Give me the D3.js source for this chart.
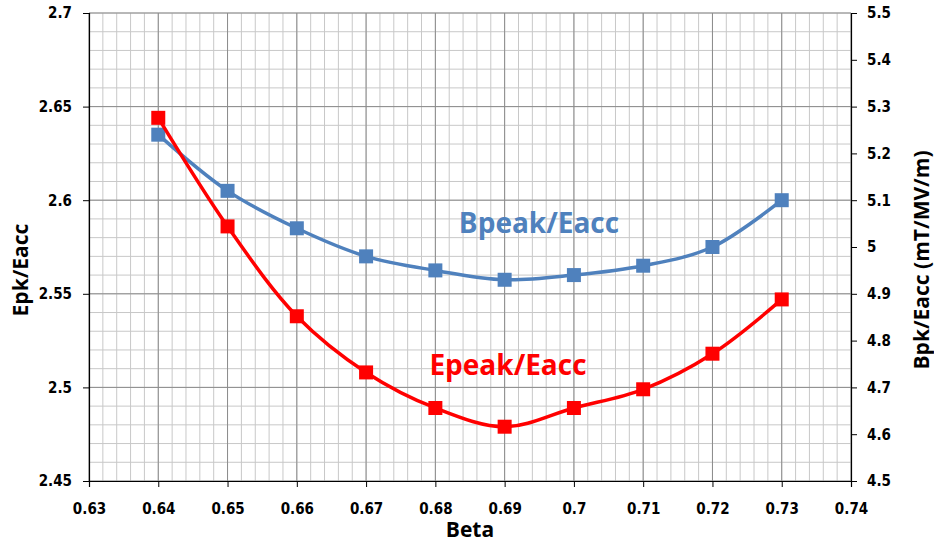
<!DOCTYPE html>
<html>
<head>
<meta charset="utf-8">
<script src="https://cdn.jsdelivr.net/npm/d3@7"></script>
<style>
  body { margin: 0; background: #fff; }
  .title { font-family: "Open Sans", sans-serif; font-weight: bold; fill: #000; }
</style>
</head>
<body>
<div id="chart"></div>
<script>
// data
const beta = [0.64, 0.65, 0.66, 0.67, 0.68, 0.69, 0.70, 0.71, 0.72, 0.73];
const epeak = [2.644, 2.586, 2.538, 2.508, 2.489, 2.479, 2.489, 2.499, 2.518, 2.547];
const bpeak = [5.24, 5.12, 5.04, 4.98, 4.95, 4.93, 4.94, 4.96, 5.00, 5.10];
const xTicks = [0.63, 0.64, 0.65, 0.66, 0.67, 0.68, 0.69, 0.7, 0.71, 0.72, 0.73, 0.74];
const leftTicks = [2.45, 2.5, 2.55, 2.6, 2.65, 2.7];
const rightTicks = [4.5, 4.6, 4.7, 4.8, 4.9, 5, 5.1, 5.2, 5.3, 5.4, 5.5];

var width = 934, height = 542;
var margin = { top: 13, right: 83, bottom: 61, left: 89 };

var x = d3.scaleLinear().domain([0.63, 0.74]).range([margin.left, width - margin.right]);
var yL = d3.scaleLinear().domain([2.45, 2.7]).range([height - margin.bottom, margin.top]);
var yR = d3.scaleLinear().domain([4.5, 5.5]).range([height - margin.bottom, margin.top]);

var svg = d3.select("#chart").append("svg")
  .attr("width", width)
  .attr("height", height);

// grid
var grid = svg.append("g");
var minorX = d3.range(0, 56).map(i => 0.63 + i * 0.002);
var minorY = d3.range(0, 26).map(i => 2.45 + i * 0.01);
grid.selectAll(".vminor").data(minorX).enter().append("line")
  .attr("x1", d => x(d)).attr("x2", d => x(d))
  .attr("y1", yL(2.45)).attr("y2", yL(2.7))
  .attr("stroke", "#c8c8c8").attr("stroke-width", 1);
grid.selectAll(".hminor").data(minorY).enter().append("line")
  .attr("x1", x(0.63)).attr("x2", x(0.74))
  .attr("y1", d => yL(d)).attr("y2", d => yL(d))
  .attr("stroke", "#c8c8c8").attr("stroke-width", 1);
grid.selectAll(".vmajor").data(xTicks).enter().append("line")
  .attr("x1", d => x(d)).attr("x2", d => x(d))
  .attr("y1", yL(2.45)).attr("y2", yL(2.7))
  .attr("stroke", "#8c8c8c").attr("stroke-width", 1);
grid.selectAll(".hmajor").data(leftTicks).enter().append("line")
  .attr("x1", x(0.63)).attr("x2", x(0.74))
  .attr("y1", d => yL(d)).attr("y2", d => yL(d))
  .attr("stroke", "#8c8c8c").attr("stroke-width", 1);

// axes
var xAxis = svg.append("g")
  .attr("transform", "translate(0," + yL(2.45) + ")")
  .call(d3.axisBottom(x).tickValues(xTicks).tickFormat(d3.format("~g")).tickSize(6).tickPadding(16));
var lAxis = svg.append("g")
  .attr("transform", "translate(" + x(0.63) + ",0)")
  .call(d3.axisLeft(yL).tickValues(leftTicks).tickFormat(d3.format("~g")).tickSize(6).tickPadding(11));
var rAxis = svg.append("g")
  .attr("transform", "translate(" + x(0.74) + ",0)")
  .call(d3.axisRight(yR).tickValues(rightTicks).tickFormat(d3.format("~g")).tickSize(6).tickPadding(10));
[xAxis, lAxis, rAxis].forEach(function (a) {
  a.attr("font-family", "'DejaVu Sans Condensed', 'DejaVu Sans', sans-serif")
    .attr("font-size", 15)
    .attr("font-weight", "bold");
  a.select(".domain").attr("stroke", "#000").attr("stroke-width", 1.2);
  a.selectAll(".tick line").attr("stroke", "#000");
  a.selectAll(".tick text").attr("fill", "#000");
});

// series
var lineE = d3.line().x((d, i) => x(beta[i])).y(d => yL(d)).curve(d3.curveCatmullRom.alpha(0.5));
var lineB = d3.line().x((d, i) => x(beta[i])).y(d => yR(d)).curve(d3.curveCatmullRom.alpha(0.5));

svg.append("path").datum(bpeak)
  .attr("d", lineB).attr("fill", "none").attr("stroke", "#4f81bd").attr("stroke-width", 3.5);
svg.selectAll(".bm").data(bpeak).enter().append("rect")
  .attr("x", (d, i) => x(beta[i]) - 7).attr("y", d => yR(d) - 7)
  .attr("width", 14).attr("height", 14).attr("fill", "#4f81bd");

svg.append("path").datum(epeak)
  .attr("d", lineE).attr("fill", "none").attr("stroke", "#ff0000").attr("stroke-width", 3.5);
svg.selectAll(".em").data(epeak).enter().append("rect")
  .attr("x", (d, i) => x(beta[i]) - 7).attr("y", d => yL(d) - 7)
  .attr("width", 14).attr("height", 14).attr("fill", "#ff0000");

// series labels
svg.append("text").attr("class", "title")
  .attr("x", 539).attr("y", 233).attr("text-anchor", "middle")
  .style("font-size", "28px").style("fill", "#4f81bd")
  .text("Bpeak/Eacc");
svg.append("text").attr("class", "title")
  .attr("x", 508).attr("y", 375).attr("text-anchor", "middle")
  .style("font-size", "28px").style("fill", "#ff0000")
  .text("Epeak/Eacc");

// axis titles
svg.append("text").attr("class", "title")
  .attr("x", 470).attr("y", 537).attr("text-anchor", "middle")
  .style("font-size", "21px").text("Beta");
svg.append("text").attr("class", "title")
  .attr("transform", "translate(28,270) rotate(-90)").attr("text-anchor", "middle")
  .style("font-size", "21px").text("Epk/Eacc");
svg.append("text").attr("class", "title")
  .attr("transform", "translate(929,260) rotate(-90)").attr("text-anchor", "middle")
  .style("font-size", "21px").text("Bpk/Eacc (mT/MV/m)");
</script>
</body>
</html>
